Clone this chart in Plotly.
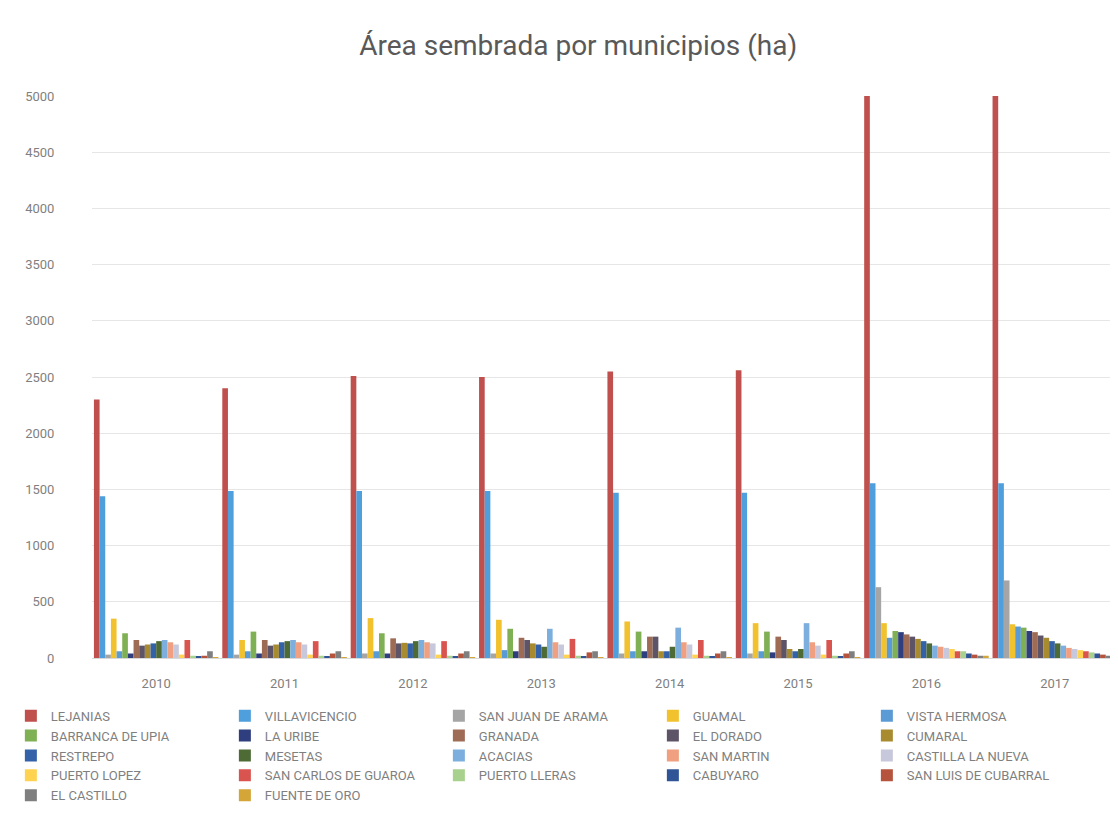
import plotly.graph_objects as go

years = ["2010", "2011", "2012", "2013", "2014", "2015", "2016", "2017"]

LEJANIAS = [2300, 2400, 2510, 2500, 2550, 2560, 5000, 5000]
VILLAVICENCIO = [1440, 1485, 1485, 1485, 1470, 1470, 1555, 1555]
SAN_JUAN_DE_ARAMA = [30, 30, 40, 40, 40, 40, 630, 690]
GUAMAL = [350, 160, 355, 340, 325, 310, 310, 300]
VISTA_HERMOSA = [60, 60, 60, 70, 60, 60, 180, 280]
BARRANCA_DE_UPIA = [220, 235, 220, 260, 235, 235, 240, 270]
LA_URIBE = [40, 40, 40, 60, 60, 50, 230, 240]
GRANADA = [160, 160, 175, 180, 190, 190, 210, 230]
EL_DORADO = [110, 110, 130, 160, 190, 160, 190, 200]
CUMARAL = [120, 120, 135, 130, 60, 80, 170, 180]
RESTREPO = [130, 140, 130, 120, 60, 60, 150, 150]
MESETAS = [150, 150, 150, 100, 100, 80, 130, 130]
ACACIAS = [160, 160, 160, 260, 270, 310, 110, 110]
SAN_MARTIN = [140, 140, 140, 140, 140, 140, 100, 90]
CASTILLA_LA_NUEVA = [120, 120, 130, 120, 120, 110, 90, 80]
PUERTO_LOPEZ = [30, 30, 30, 30, 30, 30, 80, 70]
SAN_CARLOS_DE_GUAROA = [160, 150, 150, 170, 160, 160, 60, 60]
PUERTO_LLERAS = [20, 20, 20, 20, 20, 20, 60, 50]
CABUYARO = [10, 10, 10, 10, 10, 10, 40, 40]
SAN_LUIS_DE_CUBARRAL = [20, 40, 40, 50, 40, 40, 30, 30]
EL_CASTILLO = [60, 60, 60, 60, 60, 60, 20, 20]
FUENTE_DE_ORO = [5, 5, 5, 5, 5, 5, 20, 15]

series_names = [
    "LEJANIAS", "VILLAVICENCIO", "SAN JUAN DE ARAMA", "GUAMAL", "VISTA HERMOSA",
    "BARRANCA DE UPIA", "LA URIBE", "GRANADA", "EL DORADO", "CUMARAL",
    "RESTREPO", "MESETAS", "ACACIAS", "SAN MARTIN", "CASTILLA LA NUEVA",
    "PUERTO LOPEZ", "SAN CARLOS DE GUAROA", "PUERTO LLERAS", "CABUYARO", "SAN LUIS DE CUBARRAL",
    "EL CASTILLO", "FUENTE DE ORO",
]
series_values = [
    LEJANIAS, VILLAVICENCIO, SAN_JUAN_DE_ARAMA, GUAMAL, VISTA_HERMOSA,
    BARRANCA_DE_UPIA, LA_URIBE, GRANADA, EL_DORADO, CUMARAL,
    RESTREPO, MESETAS, ACACIAS, SAN_MARTIN, CASTILLA_LA_NUEVA,
    PUERTO_LOPEZ, SAN_CARLOS_DE_GUAROA, PUERTO_LLERAS, CABUYARO, SAN_LUIS_DE_CUBARRAL,
    EL_CASTILLO, FUENTE_DE_ORO,
]
colors = [
    "#C0504D", "#4F9FDC", "#A5A5A5", "#F2C12E", "#5B9BD5",
    "#7FB054", "#2E3E7E", "#9E6B55", "#5E5468", "#A88B2E",
    "#3462A8", "#4E6B35", "#7CAFDD", "#F0A080", "#C8C8DC",
    "#FFD34F", "#D9534F", "#A9D18E", "#2F5597", "#B5533C",
    "#7F7F7F", "#D4A537",
]

fig = go.Figure()
for name, vals, col in zip(series_names, series_values, colors):
    fig.add_trace(go.Bar(name=name, x=years, y=vals, marker=dict(color=col, line=dict(width=0))))

font_fam = "Roboto, sans-serif"
fig.update_layout(
    width=1118, height=835,
    paper_bgcolor="white", plot_bgcolor="white",
    barmode="group", bargap=0.03, bargroupgap=0,
    margin=dict(l=84, r=7, t=88, b=185, autoexpand=False),
    title=dict(text="Área sembrada por municipios (ha)", x=0.51, xanchor="center",
               y=0.955, yanchor="middle",
               font=dict(family=font_fam, size=28, color="#595959")),
    font=dict(family=font_fam, color="#595959"),
    xaxis=dict(showgrid=False, showline=True, linecolor="#D9D9D9", automargin=False,
               ticks="outside", ticklen=13, tickcolor="rgba(0,0,0,0)",
               tickfont=dict(size=13, color="#7F7F7F")),
    yaxis=dict(range=[0, 5000], dtick=500, showgrid=True, gridcolor="#E6E6E6",
               zeroline=False, showline=False, automargin=False,
               ticks="outside", ticklen=34, tickcolor="rgba(0,0,0,0)",
               tickfont=dict(size=13, color="#7F7F7F")),
    legend=dict(orientation="h", x=-0.079, xanchor="left", y=-0.076, yanchor="top",
                entrywidth=169, entrywidthmode="pixels",
                font=dict(size=13, color="#7F7F7F", family=font_fam),
                itemwidth=30, traceorder="normal"),
    showlegend=True,
)

fig.write_html("out.html")
